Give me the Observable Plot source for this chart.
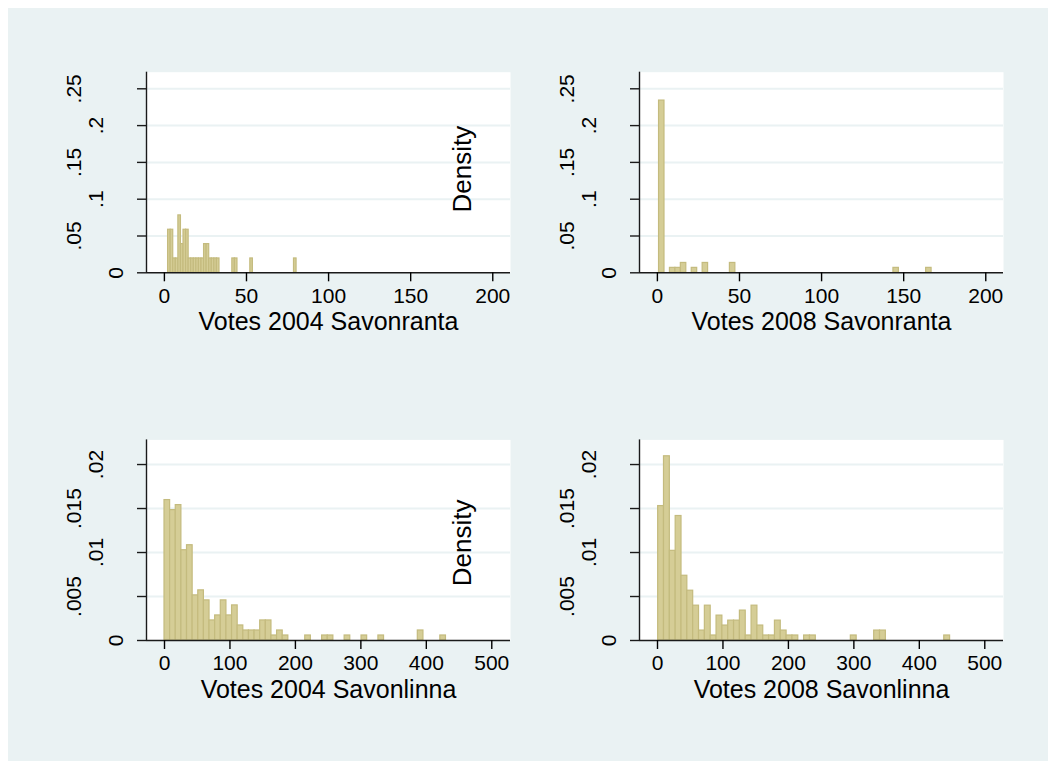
<!DOCTYPE html>
<html>
<head>
<meta charset="utf-8">
<script src="https://cdn.jsdelivr.net/npm/d3@7"></script>
<script src="https://cdn.jsdelivr.net/npm/@observablehq/plot@0.6"></script>
<style>
  html, body { margin: 0; padding: 0; background: #ffffff; }
  #wrap { position: relative; width: 1056px; height: 769px; overflow: hidden; }
  #bg { position: absolute; left: 8px; top: 8px; width: 1040px; height: 753px; background: #eaf2f3; }
  .panel { position: absolute; left: 0; top: 0; }
</style>
</head>
<body>
<div id="wrap"><div id="bg"></div></div>
<script>
const FONT = '"Liberation Sans", Arial, Helvetica, sans-serif';

// ---------- data ----------
// 50 equal-width bins per histogram: first bin start, bin width, densities
const savonranta2004Start = 2.25;
const savonranta2004Width = 1.565;
const savonranta2004Density = [
  0.0585, 0.0585, 0.0195, 0.0195, 0.078, 0.039, 0.0585, 0.0585, 0.0195, 0.0195,
  0.0195, 0.0195, 0.0195, 0.0195, 0.039, 0.039, 0.0195, 0.0195, 0.0195, 0.0195,
  0, 0, 0, 0, 0, 0.0195, 0.0195, 0, 0, 0,
  0, 0, 0.0195, 0, 0, 0, 0, 0, 0, 0,
  0, 0, 0, 0, 0, 0, 0, 0, 0, 0.0195
];

const savonranta2008Start = 1;
const savonranta2008Width = 3.32;
const savonranta2008Density = [
  0.234, 0, 0.0067, 0.0067, 0.0134, 0, 0.0067, 0, 0.0134, 0,
  0, 0, 0, 0.0134, 0, 0, 0, 0, 0, 0,
  0, 0, 0, 0, 0, 0, 0, 0, 0, 0,
  0, 0, 0, 0, 0, 0, 0, 0, 0, 0,
  0, 0, 0, 0.0067, 0, 0, 0, 0, 0, 0.0067
];

const savonlinna2004Start = 0;
const savonlinna2004Width = 8.6;
const savonlinna2004Density = [
  0.01596, 0.01482, 0.01539, 0.01026, 0.01083, 0.00513, 0.0057, 0.00456, 0.00228, 0.00285,
  0.00456, 0.00285, 0.00399, 0.00171, 0.00114, 0.00114, 0.00114, 0.00228, 0.00228, 0.00057,
  0.00114, 0.00057, 0, 0, 0, 0.00057, 0, 0, 0.00057, 0.00057,
  0, 0, 0.00057, 0, 0, 0.00057, 0, 0, 0.00057, 0,
  0, 0, 0, 0, 0, 0.00114, 0, 0, 0, 0.00057
];

const savonlinna2008Start = 1;
const savonlinna2008Width = 8.92;
const savonlinna2008Density = [
  0.01528, 0.02094, 0.01019, 0.01415, 0.00736, 0.00566, 0.00396, 0.00113, 0.00396, 0.00057,
  0.00283, 0.0017, 0.00226, 0.00226, 0.0034, 0.00057, 0.00396, 0.0017, 0.00057, 0.00057,
  0.00226, 0.00113, 0.00057, 0.00057, 0, 0.00057, 0.00057, 0, 0, 0,
  0, 0, 0, 0.00057, 0, 0, 0, 0.00113, 0.00113, 0,
  0, 0, 0, 0, 0, 0, 0, 0, 0, 0.00057
];

const topXTicks = [0, 50, 100, 150, 200];
const bottomXTicks = [0, 100, 200, 300, 400, 500];
const topYTicks = [0, 0.05, 0.1, 0.15, 0.2, 0.25];
const topYTickLabels = ["0", ".05", ".1", ".15", ".2", ".25"];
const bottomYTicks = [0, 0.005, 0.01, 0.015, 0.02];
const bottomYTickLabels = ["0", ".005", ".01", ".015", ".02"];

const titles = ["Votes 2004 Savonranta", "Votes 2008 Savonranta", "Votes 2004 Savonlinna", "Votes 2008 Savonlinna"];
const yTitle = "Density";

// ---------- styling ----------
const BAR_FILL = "#d5cd96";
const BAR_STROKE = "#c4bb7e";
const GRID = "#eaf2f3";
const AXIS = "#1a1a1a";

function bins(start, width, dens) {
  return dens.map((d, i) => ({x1: start + i * width, x2: start + (i + 1) * width, density: d}))
             .filter(b => b.density > 0);
}

function panel({L, R, T, B, xDomain, yDomain, xTicks, yTicks, yLabels, data, title, density}) {
  const W = 1056, H = 769;
  const labelRows = yTicks.map((v, i) => ({v, label: yLabels[i], i}));
  const tickText = {y: "v", text: "label", frameAnchor: "left", rotate: -90, textAnchor: "middle", lineAnchor: "bottom", fontSize: 21, fill: "#000"};
  const marks = [
    Plot.frame({fill: "white", stroke: null}),
    Plot.gridY(yTicks.filter(v => v > 0), {stroke: GRID, strokeOpacity: 1, strokeWidth: 2}),
    Plot.rect(data, {x1: "x1", x2: "x2", y1: 0, y2: "density", fill: BAR_FILL, stroke: BAR_STROKE, strokeWidth: 1.2}),
    Plot.ruleX([xDomain[0]], {stroke: AXIS, strokeWidth: 1.4}),
    Plot.ruleY([0], {stroke: AXIS, strokeWidth: 1.4}),
    Plot.axisX({ticks: xTicks, tickSize: 9, tickPadding: 6, fontSize: 21, label: null, color: "#000", strokeWidth: 1.4, tickFormat: d => String(d)}),
    Plot.axisY({ticks: yTicks, tickSize: 9, label: null, tickFormat: () => "", color: AXIS, strokeWidth: 1.4}),
    // y tick labels, vertical, staggered as in the reference
    Plot.text(labelRows.filter(r => r.i === 0), {...tickText, dx: -24}),
    Plot.text(labelRows.filter(r => r.i > 0 && r.i % 2 === 0), {...tickText, dx: -44}),
    Plot.text(labelRows.filter(r => r.i % 2 === 1), {...tickText, dx: -66}),
    Plot.text([title], {frameAnchor: "bottom", dy: 57.4, lineAnchor: "bottom", fontSize: 25, fill: "#000"})
  ];
  if (density) {
    marks.push(Plot.text([yTitle], {frameAnchor: "top-left", dx: density.dx, dy: density.dy, rotate: -90, textAnchor: "middle", lineAnchor: "bottom", fontSize: 26, fill: "#000"}));
  }
  const svg = Plot.plot({
    width: W, height: H,
    marginLeft: L, marginRight: W - R, marginTop: T, marginBottom: H - B,
    style: {background: "transparent", fontFamily: FONT, overflow: "visible"},
    x: {domain: xDomain},
    y: {domain: yDomain},
    marks
  });
  svg.classList.add("panel");
  document.getElementById("wrap").appendChild(svg);
}

const topX = [-10.9, 210.8];
const botX = [-27.5, 528.6];
const topY = [0, 0.27255];
const botY = [0, 0.0228];

panel({L: 146, R: 510, T: 71.7, B: 272.3, xDomain: topX, yDomain: topY, xTicks: topXTicks, yTicks: topYTicks, yLabels: topYTickLabels,
  data: bins(savonranta2004Start, savonranta2004Width, savonranta2004Density), title: titles[0], density: {dx: 324, dy: 97}});
panel({L: 639, R: 1003, T: 71.7, B: 272.3, xDomain: topX, yDomain: topY, xTicks: topXTicks, yTicks: topYTicks, yLabels: topYTickLabels,
  data: bins(savonranta2008Start, savonranta2008Width, savonranta2008Density), title: titles[1]});
panel({L: 146, R: 510, T: 439.4, B: 640, xDomain: botX, yDomain: botY, xTicks: bottomXTicks, yTicks: bottomYTicks, yLabels: bottomYTickLabels,
  data: bins(savonlinna2004Start, savonlinna2004Width, savonlinna2004Density), title: titles[2], density: {dx: 324, dy: 103}});
panel({L: 639, R: 1003, T: 439.4, B: 640, xDomain: botX, yDomain: botY, xTicks: bottomXTicks, yTicks: bottomYTicks, yLabels: bottomYTickLabels,
  data: bins(savonlinna2008Start, savonlinna2008Width, savonlinna2008Density), title: titles[3]});
</script>
</body>
</html>
